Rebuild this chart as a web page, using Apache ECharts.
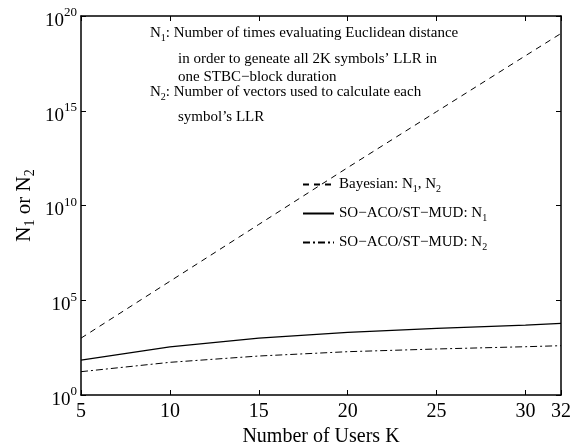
<!DOCTYPE html>
<html>
<head>
<meta charset="utf-8">
<script src="https://cdn.jsdelivr.net/npm/echarts@6/dist/echarts.min.js"></script>
<style>
html, body { margin: 0; padding: 0; background: #fff; }
#chart { width: 573px; height: 443px; }
</style>
</head>
<body>
<div id="chart"></div>
<script>
// number of users K
var users = [5, 10, 15, 20, 25, 30, 32];
// Bayesian N1 = N2
var bayesian = [1e3, 1e6, 1e9, 1e12, 9e14, 8e17, 1.2e19];
// SO-ACO/ST-MUD N1 and N2
var acoN1 = [70, 350, 1000, 2000, 3300, 4900, 6000];
var acoN2 = [17, 53, 114, 193, 268, 353, 400];

var FONT = 'Liberation Serif';

function pairs(ys) {
  return users.map(function (k, i) { return [k, ys[i]]; });
}

var subRich = {
  n: { fontFamily: FONT, fontSize: 15, color: '#000' },
  s: { fontFamily: FONT, fontSize: 10, color: '#000', padding: [9, 0, 0, 0] }
};

var chart = echarts.init(document.getElementById('chart'));

var names = ['Bayesian', 'SO-ACO N1', 'SO-ACO N2'];
var legendText = {
  'Bayesian': '{n|Bayesian: N}{s|1}{n|, N}{s|2}',
  'SO-ACO N1': '{n|SO−ACO/ST−MUD: N}{s|1}',
  'SO-ACO N2': '{n|SO−ACO/ST−MUD: N}{s|2}'
};

function annot(left, top, text) {
  return {
    type: 'text', left: left, top: top,
    style: { text: text, rich: subRich, fontFamily: FONT, fontSize: 15, fill: '#000' }
  };
}

var option = {
  animation: false,
  backgroundColor: '#fff',
  grid: { left: 81, right: 12, top: 16, bottom: 48, outerBoundsMode: 'none', containLabel: false },
  legend: {
    data: names,
    orient: 'vertical',
    left: 302,
    top: 177,
    padding: 0,
    itemWidth: 31,
    itemHeight: 10,
    itemGap: 12,
    itemStyle: { opacity: 0 },
    formatter: function (name) { return legendText[name]; },
    textStyle: { rich: subRich, fontFamily: FONT, fontSize: 15, color: '#000' }
  },
  xAxis: [{
    type: 'value', min: 5, max: 32, interval: 5,
    name: 'Number of Users K', nameLocation: 'middle', nameGap: 28,
    nameTextStyle: { fontFamily: FONT, fontSize: 20, color: '#000' },
    axisLine: { lineStyle: { color: '#000', width: 1.5 } },
    axisTick: { inside: true, length: 5, lineStyle: { color: '#000' } },
    axisLabel: { fontFamily: FONT, fontSize: 20, color: '#000', margin: 7, showMaxLabel: true },
    splitLine: { show: false }
  }, {
    type: 'value', min: 5, max: 32, interval: 5, position: 'top',
    axisLine: { lineStyle: { color: '#000', width: 1.5 } },
    axisTick: { inside: true, length: 5, lineStyle: { color: '#000' } },
    axisLabel: { show: false },
    splitLine: { show: false }
  }],
  yAxis: [{
    type: 'log', logBase: 10, min: 1, max: 1e20, interval: 5,
    name: '{b|N}{t|1}{b| or N}{t|2}', nameLocation: 'middle', nameGap: 44, nameRotate: 90,
    nameMoveOverlap: false,
    nameTextStyle: {
      rich: {
        b: { fontFamily: FONT, fontSize: 21, color: '#000' },
        t: { fontFamily: FONT, fontSize: 14, color: '#000', padding: [12, 0, 0, 0] }
      }
    },
    axisLine: { show: true, lineStyle: { color: '#000', width: 1.5 } },
    axisTick: { inside: true, length: 5, lineStyle: { color: '#000' } },
    axisLabel: {
      margin: 4,
      formatter: function (v) {
        var e = Math.round(Math.log10(v));
        return '{b|10}{e|' + e + '}';
      },
      rich: {
        b: { fontFamily: FONT, fontSize: 19, color: '#000', padding: [10, 0, 0, 0] },
        e: { fontFamily: FONT, fontSize: 13, color: '#000', padding: [0, 0, 6, 0] }
      }
    },
    splitLine: { show: false }
  }, {
    type: 'log', logBase: 10, min: 1, max: 1e20, interval: 5, position: 'right',
    axisLine: { show: true, lineStyle: { color: '#000', width: 1.5 } },
    axisTick: { inside: true, length: 5, lineStyle: { color: '#000' } },
    axisLabel: { show: false },
    splitLine: { show: false }
  }],
  graphic: [
    annot(150, 26, '{n|N}{s|1}{n|: Number of times evaluating Euclidean distance}'),
    annot(178, 52, 'in order to geneate all 2K symbols’ LLR in'),
    annot(178, 70, 'one STBC−block duration'),
    annot(150, 85, '{n|N}{s|2}{n|: Number of vectors used to calculate each}'),
    annot(178, 110, 'symbol’s LLR')
  ],
  series: [{
    name: names[0], type: 'line', showSymbol: false, symbol: 'none',
    data: pairs(bayesian),
    lineStyle: { color: '#000', width: 1, type: [6, 5] },
    itemStyle: { color: '#000' }
  }, {
    name: names[1], type: 'line', showSymbol: false, symbol: 'none',
    data: pairs(acoN1),
    lineStyle: { color: '#000', width: 1.2, type: 'solid' },
    itemStyle: { color: '#000' }
  }, {
    name: names[2], type: 'line', showSymbol: false, symbol: 'none',
    data: pairs(acoN2),
    lineStyle: { color: '#000', width: 1, type: [7, 3, 2, 3] },
    itemStyle: { color: '#000' }
  }]
};

chart.setOption(option);
</script>
</body>
</html>
